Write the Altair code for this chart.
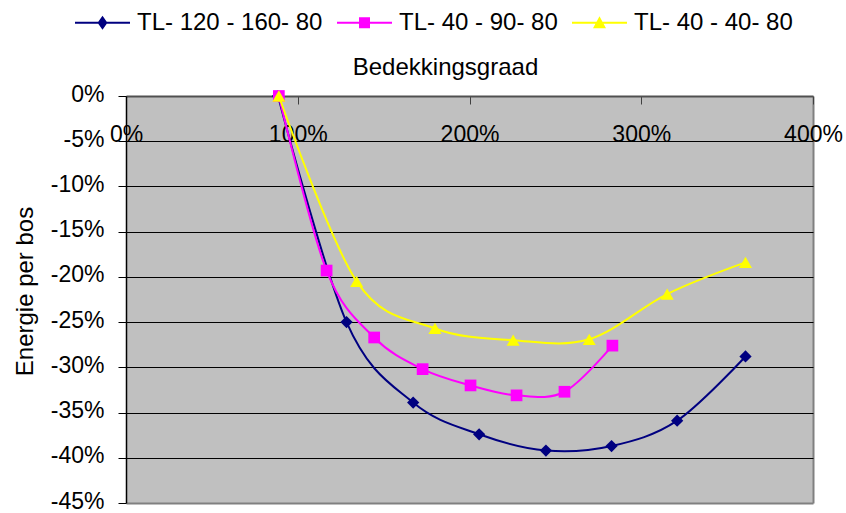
import altair as alt
import pandas as pd

# Series labels and colours
series_names = ["TL- 120 - 160- 80", "TL- 40 - 90- 80", "TL- 40 - 40- 80"]
series_colors = ["#000080", "#FF00FF", "#FFFF00"]
series_markers = ["diamond", "square", "triangle-up"]
marker_sizes = [150, 137, 170]

# Bedekkingsgraad (%) versus change in energy per bos (%)
x_120_160 = [88.5, 128.4, 167.2, 205.6, 244.5, 282.7, 320.9, 360.7]
y_120_160 = [0.0, -25.0, -33.9, -37.4, -39.2, -38.7, -35.9, -28.8]

x_40_90 = [89.0, 116.8, 144.5, 172.7, 200.6, 227.4, 255.3, 283.2]
y_40_90 = [0.0, -19.3, -26.7, -30.2, -32.0, -33.1, -32.7, -27.6]

x_40_40 = [89.0, 134.3, 179.9, 225.4, 269.7, 315.1, 360.7]
y_40_40 = [0.0, -20.5, -25.7, -27.0, -26.9, -21.9, -18.4]

x_ticks = [0, 100, 200, 300, 400]
y_ticks = [-45, -40, -35, -30, -25, -20, -15, -10, -5, 0]

xs = [x_120_160, x_40_90, x_40_40]
ys = [y_120_160, y_40_90, y_40_40]

rows = []
for name, sx, sy in zip(series_names, xs, ys):
    for i, (a, b) in enumerate(zip(sx, sy)):
        rows.append({"series": name, "x": a, "y": b, "order": i})
df = pd.DataFrame(rows)

# Legend symbols: a short line with the series marker on it
legend_paths = [
    "M-1,-0.04L1,-0.04L1,0.04L-1,0.04Z M0,-0.255L0.18,0L0,0.255L-0.18,0Z",
    "M-1,-0.04L1,-0.04L1,0.04L-1,0.04Z M-0.2,-0.2L0.2,-0.2L0.2,0.2L-0.2,0.2Z",
    "M-1,-0.04L1,-0.04L1,0.04L-1,0.04Z M0,-0.24L0.236,0.2L-0.236,0.2Z",
]

FONT = "Liberation Sans"

x_scale = alt.Scale(domain=[0, 400], nice=False, zero=False)
y_scale = alt.Scale(domain=[-45, 0], nice=False, zero=False)

x_axis = alt.Axis(
    orient="bottom",
    offset=-407,
    values=x_ticks,
    labelExpr="datum.value + '%'",
    tickSize=8,
    tickColor="#404040",
    domainColor="#505050",
    domainWidth=2,
    labelFont=FONT,
    labelFontSize=23,
    labelColor="black",
    labelPadding=19,
    labelOverlap=False,
    labelFlush=False,
    grid=True,
    gridColor={"condition": {"test": "datum.value == 400", "value": "#808080"}, "value": "transparent"},
    gridWidth=2,
    title="Bedekkingsgraad",
    titleFont=FONT,
    titleFontSize=24,
    titleFontWeight="normal",
    titleColor="black",
    titleX=319,
    titleY=-22,
    titleBaseline="alphabetic",
    titleAlign="center",
)

y_axis = alt.Axis(
    values=y_ticks,
    labelExpr="datum.value + '%'",
    tickSize=8,
    tickColor="black",
    domainColor="black",
    domainWidth=1.5,
    labelFont=FONT,
    labelFontSize=23,
    labelColor="black",
    labelPadding=14,
    labelOffset=-2,
    labelOverlap=False,
    labelFlush=False,
    grid=True,
    gridColor={
        "condition": [
            {"test": "datum.value == -45", "value": "#808080"},
            {"test": "datum.value == 0", "value": "transparent"},
        ],
        "value": "black",
    },
    gridWidth={"condition": {"test": "datum.value == -45", "value": 2}, "value": 1},
    title="Energie per bos",
    titleFont=FONT,
    titleFontSize=24,
    titleFontWeight="normal",
    titleColor="black",
    titleAngle=-90,
    titleX=-94,
    titleY=195,
    titleBaseline="alphabetic",
    titleAlign="center",
)

base = alt.Chart(df)
X = alt.X("x:Q", scale=x_scale, axis=x_axis)
Y = alt.Y("y:Q", scale=y_scale, axis=y_axis)

# One smoothed line plus markers per series
layers = []
for name, color, marker, msize in zip(series_names, series_colors, series_markers, marker_sizes):
    sub = base.transform_filter(alt.datum.series == name)
    line = sub.mark_line(interpolate="cardinal", strokeWidth=2, color=color).encode(
        x=X, y=Y, order="order:Q",
    )
    pts = sub.mark_point(
        filled=True, opacity=1, size=msize, strokeWidth=0, color=color, shape=marker
    ).encode(x=X, y=Y)
    layers += [line, pts]

legend = alt.Legend(
    orient="none",
    legendX=-51,
    legendY=-101,
    direction="horizontal",
    title=None,
    labelFont=FONT,
    labelFontSize=24,
    labelColor="black",
    labelOffset=7,
    labelLimit=400,
    symbolSize=3025,
    symbolStrokeWidth=0,
    columnPadding=14,
    padding=0,
)

# Legend-only layer: no rows are drawn, the scales carry the three entries
legend_layer = base.transform_filter("false").mark_point(filled=True, opacity=1).encode(
    x=X, y=Y,
    color=alt.Color("series:N", scale=alt.Scale(domain=series_names, range=series_colors), legend=legend),
    shape=alt.Shape("series:N", scale=alt.Scale(domain=series_names, range=legend_paths), legend=legend),
)

chart = alt.layer(*layers, legend_layer).properties(
    width=687,
    height=407,
    autosize=alt.AutoSizeParams(type="none"),
    padding={"left": 126, "top": 96, "right": 33, "bottom": 10},
    background="white",
).configure(
    font=FONT,
).configure_view(
    fill="#C0C0C0",
    strokeWidth=0,
)

chart.save("out.html", embed_options={"renderer": "svg", "actions": False})
